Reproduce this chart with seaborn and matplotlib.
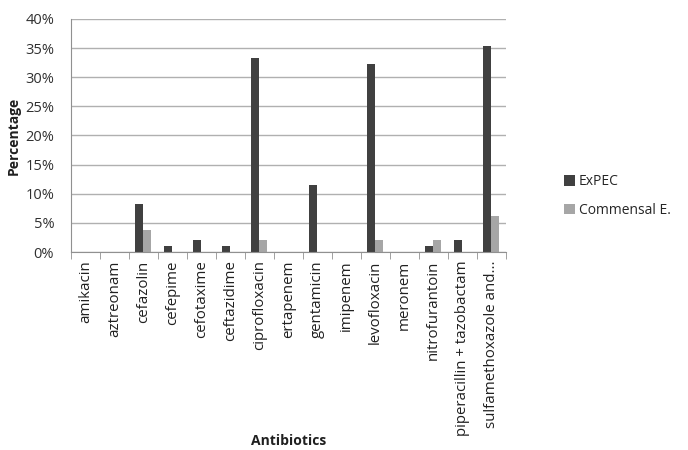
import pandas as pd
import matplotlib
matplotlib.use('Agg')
import matplotlib.pyplot as plt
import seaborn as sns
from matplotlib.ticker import PercentFormatter, FixedLocator

antibiotics = ['amikacin', 'aztreonam', 'cefazolin', 'cefepime', 'cefotaxime',
               'ceftazidime', 'ciprofloxacin', 'ertapenem', 'gentamicin', 'imipenem',
               'levofloxacin', 'meronem', 'nitrofurantoin', 'piperacillin + tazobactam',
               'sulfamethoxazole and...']
expec = [0, 0, 8.3, 1.0, 2.0, 1.0, 33.3, 0, 11.5, 0, 32.2, 0, 1.0, 2.0, 35.4]
commensal = [0, 0, 3.8, 0, 0, 0, 2.0, 0, 0, 0, 2.0, 0, 2.0, 0, 6.2]
groups = ['ExPEC', 'Commensal E.']

df = pd.concat([
    pd.DataFrame({'Antibiotics': antibiotics, 'value': [v / 100 for v in expec], 'group': groups[0]}),
    pd.DataFrame({'Antibiotics': antibiotics, 'value': [v / 100 for v in commensal], 'group': groups[1]}),
])

sns.set_style('white')
plt.rcParams['font.family'] = ['Open Sans', 'DejaVu Sans']

fig = plt.figure(figsize=(6.88, 4.5), dpi=100)
ax = fig.add_axes([0.103, 0.44, 0.632, 0.518])

sns.barplot(data=df, x='Antibiotics', y='value', hue='group',
            palette=['#404040', '#a6a6a6'], width=0.56, ax=ax,
            saturation=1, edgecolor='none', legend=True)

ax.set_ylim(0, 0.40)
ax.set_xlim(-0.5, len(antibiotics) - 0.5)
ax.yaxis.set_major_formatter(PercentFormatter(1, decimals=0))
ax.set_yticks([i * 0.05 for i in range(9)])
ax.grid(axis='y', color='#b0b0b0', linewidth=1)
ax.set_axisbelow(True)

for s in ['top', 'right']:
    ax.spines[s].set_visible(False)
ax.spines['left'].set_color('#909090')
ax.spines['bottom'].set_color('#909090')

ax.set_xticks(range(len(antibiotics)))
ax.set_xticklabels(antibiotics, rotation=90, fontsize=10.8, color='#202020')
ax.tick_params(axis='x', length=0, pad=6)
ax.xaxis.set_minor_locator(FixedLocator([i - 0.5 for i in range(len(antibiotics) + 1)]))
ax.tick_params(axis='x', which='minor', length=5, color='#909090', bottom=True)
ax.tick_params(axis='y', labelsize=10.5, length=0, pad=12, labelcolor='#303030')

ax.set_xlabel('Antibiotics', fontsize=10, fontweight='bold', color='#202020')
ax.xaxis.set_label_coords(0.5, -0.78)
ax.set_ylabel('Percentage', fontsize=10, fontweight='bold', color='#202020', labelpad=3)

leg = ax.legend(loc='center left', bbox_to_anchor=(1.105, 0.24), frameon=False,
                fontsize=10, handlelength=0.8, handleheight=0.8,
                handletextpad=0.3, labelspacing=0.95)

fig.savefig('out.png', dpi=100)
